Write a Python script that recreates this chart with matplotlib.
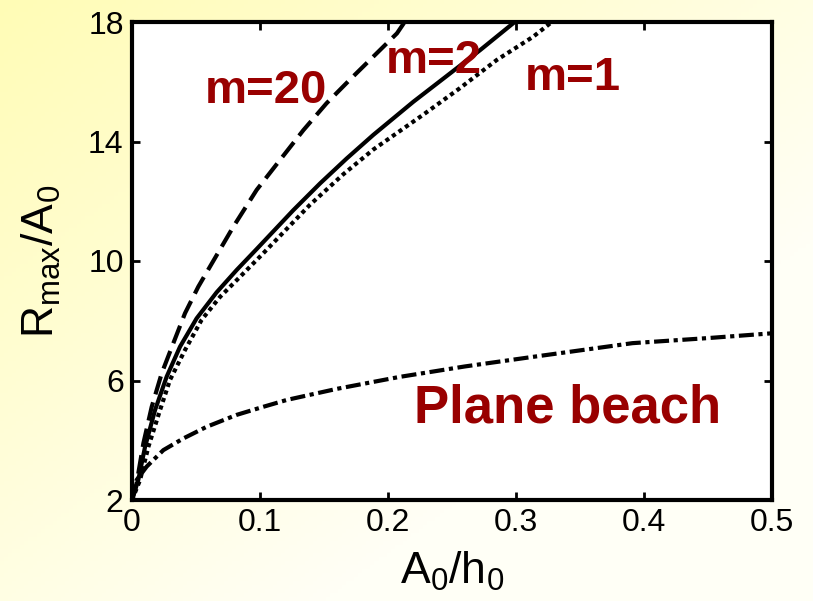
import numpy as np
import matplotlib
matplotlib.use("Agg")
import matplotlib.pyplot as plt

plt.rcParams['font.family'] = ['Liberation Sans', 'DejaVu Sans']
plt.rcParams['mathtext.fontset'] = 'custom'
plt.rcParams['mathtext.rm'] = 'Liberation Sans'
plt.rcParams['mathtext.it'] = 'Liberation Sans'
plt.rcParams['mathtext.default'] = 'regular'

# ---- data ----
m20_x = [0.0, 0.0036, 0.0089, 0.0154, 0.0232, 0.0323, 0.0414, 0.0518, 0.0609,
         0.0792, 0.0974, 0.1156, 0.1339, 0.152, 0.170, 0.1885, 0.207, 0.213]
m20_y = [2.0, 2.56, 3.90, 5.12, 6.24, 7.25, 8.25, 9.14, 9.81,
         11.15, 12.38, 13.38, 14.38, 15.28, 16.06, 16.84, 17.62, 18.0]

m2_x = [0.0, 0.0049, 0.0102, 0.018, 0.0271, 0.0375, 0.0505, 0.0661, 0.0818,
        0.0974, 0.126, 0.147, 0.1677, 0.1885, 0.2198, 0.2458, 0.272, 0.299]
m2_y = [2.0, 2.67, 3.78, 5.01, 6.13, 7.13, 8.08, 8.95, 9.70,
        10.40, 11.70, 12.60, 13.43, 14.22, 15.33, 16.19, 17.06, 18.0]

m1_x = [0.0, 0.0063, 0.0128, 0.0219, 0.0297, 0.0414, 0.0544, 0.0688, 0.0844,
        0.1026, 0.139, 0.165, 0.1885, 0.2276, 0.256, 0.285, 0.3135, 0.328]
m1_y = [2.0, 2.67, 3.78, 5.01, 6.02, 7.02, 8.03, 8.80, 9.47,
        10.26, 11.88, 12.90, 13.73, 14.90, 15.78, 16.73, 17.51, 18.0]

pb_x = [0.0, 0.0036, 0.0115, 0.0245, 0.0401, 0.0583, 0.0818, 0.1026, 0.121,
        0.160, 0.209, 0.260, 0.313, 0.391, 0.450, 0.500]
pb_y = [2.0, 2.67, 3.12, 3.67, 4.06, 4.45, 4.85, 5.12, 5.35,
        5.72, 6.12, 6.47, 6.79, 7.25, 7.42, 7.58]

xticks = [0, 0.1, 0.2, 0.3, 0.4, 0.5]
xticklabels = ['0', '0.1', '0.2', '0.3', '0.4', '0.5']
yticks = [2, 6, 10, 14, 18]

fig = plt.figure(figsize=(8.13, 6.01), dpi=100)

# yellow gradient background
bg = fig.add_axes([0, 0, 1, 1], zorder=-10)
gx, gy = np.meshgrid(np.linspace(0, 1, 200), np.linspace(0, 1, 150))
t = np.clip((gx + gy) / 1.4, 0, 1)
c0 = np.array([255, 252, 182]) / 255.0
c1 = np.array([255, 255, 246]) / 255.0
img = c0[None, None, :] * (1 - t[..., None]) + c1[None, None, :] * t[..., None]
bg.imshow(img, aspect='auto', extent=[0, 1, 0, 1])
bg.axis('off')

ax = fig.add_axes([132/813, 1 - 500/601, 640/813, 478/601])
ax.set_facecolor('white')

lw = 3.0
ax.plot(m20_x, m20_y, color='black', lw=lw, linestyle=(0, (4.5, 2)))
ax.plot(m2_x, m2_y, color='black', lw=lw, linestyle='-')
ax.plot(m1_x, m1_y, color='black', lw=lw, linestyle=(0, (1, 0.9)))
ax.plot(pb_x, pb_y, color='black', lw=lw, linestyle=(0, (3.6, 1.1, 1, 1.1)))

ax.set_xlim(0, 0.5)
ax.set_ylim(2, 18)
ax.set_xticks(xticks)
ax.set_xticklabels(xticklabels)
ax.set_yticks(yticks)
ax.tick_params(direction='in', length=6, width=2, labelsize=23,
               top=True, right=True, pad=6)
for s in ax.spines.values():
    s.set_linewidth(3)

ax.set_xlabel('$A_0/h_0$', fontsize=32, labelpad=8)
ax.set_ylabel('$R_{max}/A_0$', fontsize=32, labelpad=18)

red = '#990000'
ax.text(0.057, 15.29, 'm=20', color=red, fontsize=34, fontweight='bold',
        ha='left', va='baseline')
ax.text(0.198, 16.29, 'm=2', color=red, fontsize=34, fontweight='bold',
        ha='left', va='baseline')
ax.text(0.307, 15.72, 'm=1', color=red, fontsize=34, fontweight='bold',
        ha='left', va='baseline')
ax.text(0.220, 4.61, 'Plane beach', color=red, fontsize=38, fontweight='bold',
        ha='left', va='baseline')

fig.savefig('out.png', dpi=100)
